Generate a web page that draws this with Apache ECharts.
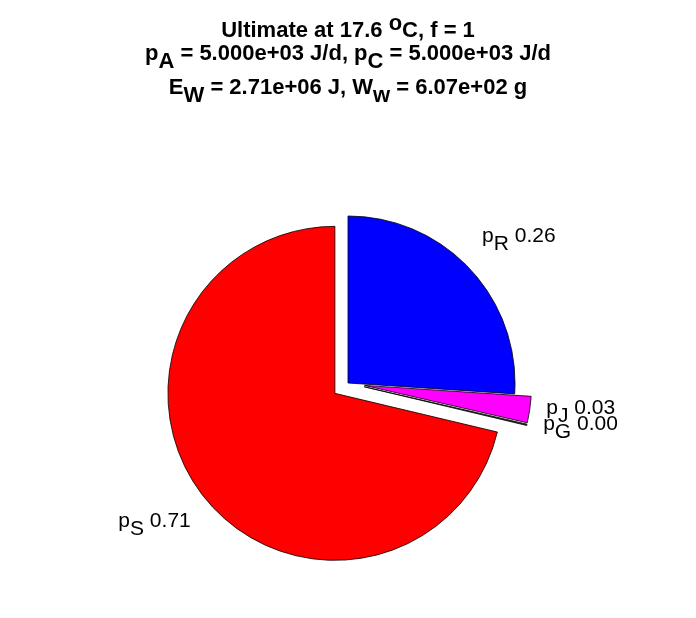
<!DOCTYPE html>
<html>
<head>
<meta charset="utf-8">
<script src="https://cdn.jsdelivr.net/npm/echarts@6/dist/echarts.min.js"></script>
<style>
html,body{margin:0;padding:0;background:#fff;}
#chart{width:696px;height:618px;}
</style>
</head>
<body>
<div id="chart"></div>
<script>
// ---- data ----
const sliceSubs = ['R', 'J', 'G', 'S'];
const sliceValues = [0.2604, 0.0255, 0.0013, 0.7128];
const sliceLabels = ['0.26', '0.03', '0.00', '0.71'];
const sliceExploded = [false, true, true, true];
const sliceColors = ['#0000ff', '#ff00ff', '#303030', '#ff0000'];

const titleLine1 = ['Ultimate at 17.6 ', 'o', 'C, f = 1'];
const titleLine2 = ['p', 'A', ' = 5.000e+03 J/d, p', 'C', ' = 5.000e+03 J/d'];
const titleLine3 = ['E', 'W', ' = 2.71e+06 J, W', 'w', ' = 6.07e+02 g'];

// ---- layout ----
const CX = 348, CY = 383, R = 167, EXPLODE = 0.1;
const FONT = 'Liberation Sans, Arial, sans-serif';

const total = sliceValues.reduce((a, b) => a + b, 0);
const midAngles = [];
let acc = 0;
sliceValues.forEach(v => {
  const start = 90 - acc / total * 360;
  acc += v;
  const end = 90 - acc / total * 360;
  midAngles.push((start + end) / 2);
});

const chart = echarts.init(document.getElementById('chart'), null, {renderer: 'canvas'});

const tStyle = (extra) => Object.assign({fontFamily: FONT, fontSize: 22, fontWeight: 'bold', color: '#000', verticalAlign: 'top'}, extra);
const titleRich = {
  m: tStyle({padding: [0, 0, 0, 0]}),
  mp: tStyle({padding: [7, 0, 0, 0]}),
  sup: tStyle({padding: [0, 0, 0, 0]}),
  sub: tStyle({padding: [8, 0, 0, 0]})
};
function subLine(parts) {
  return parts.map((p, i) => '{' + (i % 2 === 1 ? 'sub' : 'm') + '|' + p + '}').join('');
}
const line1 = '{mp|' + titleLine1[0] + '}{sup|' + titleLine1[1] + '}{mp|' + titleLine1[2] + '}';

const labStyle = (extra) => Object.assign({fontFamily: FONT, fontSize: 21, color: '#000', verticalAlign: 'top'}, extra);

const pieData = sliceValues.map((v, i) => ({
  value: v,
  name: sliceSubs[i],
  selected: sliceExploded[i],
  itemStyle: {color: sliceColors[i]}
}));

const option = {
  backgroundColor: '#fff',
  animation: false,
  title: [
    {text: line1, left: 'center', top: 13, padding: 0, textStyle: {rich: titleRich}},
    {text: subLine(titleLine2), left: 'center', top: 43, padding: 0, textStyle: {rich: titleRich}},
    {text: subLine(titleLine3), left: 'center', top: 77, padding: 0, textStyle: {rich: titleRich}}
  ],
  series: [{
    type: 'pie',
    center: [CX, CY],
    radius: [0, R],
    startAngle: 90,
    clockwise: true,
    minAngle: 0,
    avoidLabelOverlap: false,
    selectedMode: 'multiple',
    selectedOffset: EXPLODE * R,
    emphasis: {disabled: true},
    itemStyle: {borderColor: '#000', borderWidth: 0.8},
    label: {show: false},
    labelLine: {show: false},
    data: pieData
  }, {
    // label layer: same slices, invisible, labels placed like MATLAB pie text
    type: 'pie',
    silent: true,
    center: [CX, CY],
    radius: [0, R],
    startAngle: 90,
    clockwise: true,
    minAngle: 0,
    avoidLabelOverlap: false,
    selectedMode: false,
    emphasis: {disabled: true},
    itemStyle: {color: 'rgba(0,0,0,0)', borderWidth: 0},
    labelLine: {show: false},
    label: {
      show: true,
      formatter: p => '{m|p}{s|' + sliceSubs[p.dataIndex] + '}{m| ' + sliceLabels[p.dataIndex] + '}',
      rich: {
        m: labStyle({padding: [3, 0, 0, 0]}),
        s: labStyle({padding: [11, 0, 3, 0]})
      }
    },
    labelLayout: function (p) {
      const i = p.dataIndex;
      const rad = midAngles[i] * Math.PI / 180;
      const off = sliceExploded[i] ? EXPLODE * R : 0;
      const x0 = CX + off * Math.cos(rad), y0 = CY - off * Math.sin(rad);
      const x = x0 + 1.1 * R * Math.cos(rad), y = y0 - 1.1 * R * Math.sin(rad);
      const s = Math.sin(rad);
      return {
        x: x, y: y,
        align: Math.cos(rad) >= 0 ? 'left' : 'right',
        verticalAlign: s > 0.5 ? 'bottom' : (s < -0.5 ? 'top' : 'middle')
      };
    },
    data: sliceValues.map((v, i) => ({value: v, name: sliceSubs[i]}))
  }]
};
chart.setOption(option);
</script>
</body>
</html>
